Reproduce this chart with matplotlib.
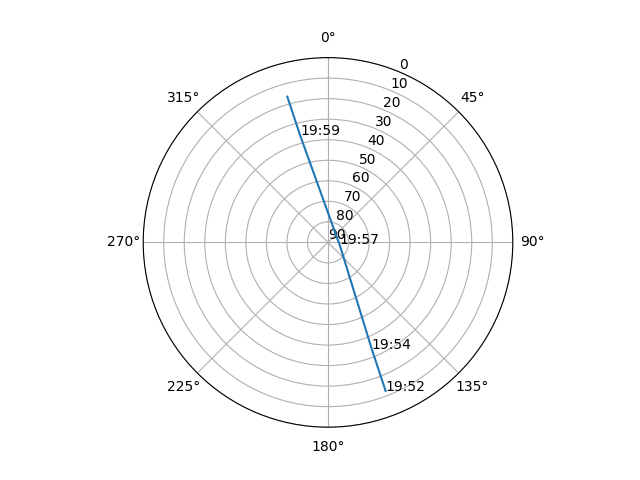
import numpy as np
import matplotlib
matplotlib.use("Agg")
import matplotlib.pyplot as plt

# Pass track: azimuth (deg, clockwise from north) and elevation (deg)
pass_az = [158.8, 157.7, 99.4, 71.3, 345.4, 344.4]
pass_el = [12.4, 33.7, 84.3, 85.1, 36.0, 16.3]

# Time labels at points along the track
label_times = ["19:52", "19:54", "19:57", "19:59"]
label_az = [158.8, 157.7, 99.4, 345.4]
label_el = [12.4, 33.7, 84.3, 36.0]

r_ticks = list(range(0, 91, 10))

fig = plt.figure(figsize=(6.4, 4.8), dpi=100)
ax = fig.add_subplot(111, projection="polar")
ax.set_theta_zero_location("N")
ax.set_theta_direction(-1)

ax.plot(np.radians(pass_az), pass_el)
for t, a, e in zip(label_times, label_az, label_el):
    ax.text(np.radians(a), e, t)

ax.set_ylim(90, 0)
ax.set_yticks(r_ticks)

fig.savefig("out.png", dpi=100)
